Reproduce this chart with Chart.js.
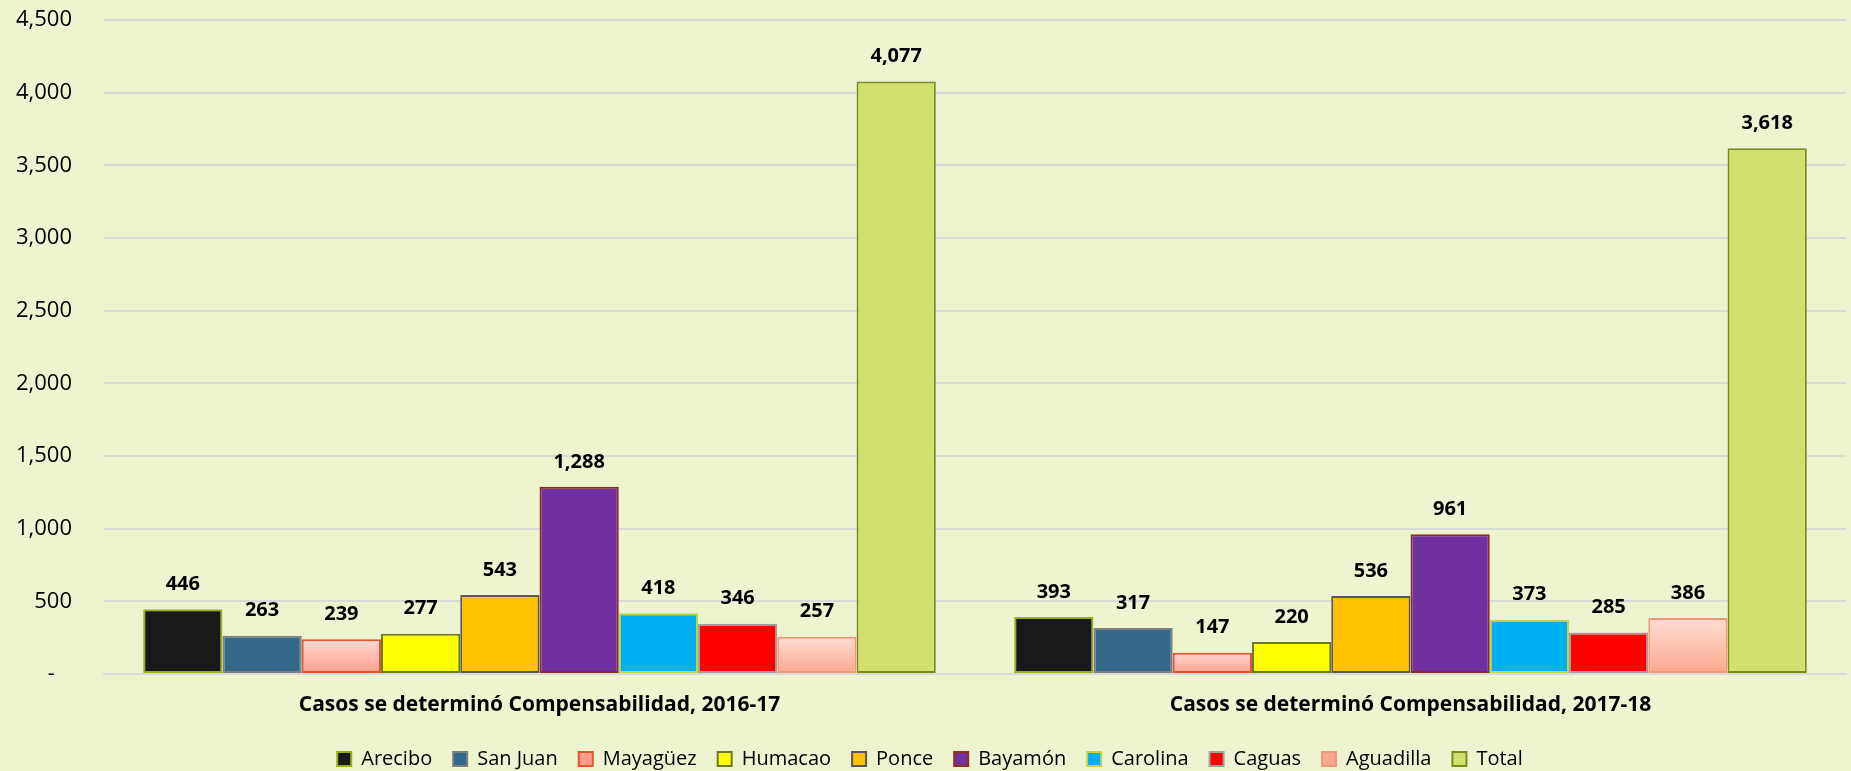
<!DOCTYPE html>
<html>
<head>
<meta charset="utf-8">
<script src="https://cdn.jsdelivr.net/npm/chart.js@4"></script>
<style>
	body { margin: 0; background: #eff4d0; }
	#wrap { width: 1851px; height: 771px; position: relative; }
</style>
</head>
<body>
<div id="wrap"><canvas id="myChart"></canvas></div>
<script>
var categorias = ["Casos se determinó Compensabilidad, 2016-17", "Casos se determinó Compensabilidad, 2017-18"];
var regiones = ["Arecibo", "San Juan", "Mayagüez", "Humacao", "Ponce", "Bayamón", "Carolina", "Caguas", "Aguadilla", "Total"];
var valores2016 = [446, 263, 239, 277, 543, 1288, 418, 346, 257, 4077];
var valores2017 = [393, 317, 147, 220, 536, 961, 373, 285, 386, 3618];
var yTicks = [0, 500, 1000, 1500, 2000, 2500, 3000, 3500, 4000, 4500];

var rellenos = ["#191919", "#336888", null, "#ffff00", "#ffc000", "#7030a0", "#00b0f0", "#ff0000", null, "#d3e06f"];
var bordes = ["#9aad1e", "#7f7f7f", "#e0552c", "#6b7a2a", "#595959", "#8b2e1a", "#c4d24a", "#a0a0a0", "#f09878", "#7b8c1f"];

// degradado rosado para Mayagüez y Aguadilla
function degradado(arriba, abajo) {
	return function(c) {
		var chart = c.chart;
		if (!chart.chartArea || c.raw === undefined) return arriba;
		var y = chart.scales.y;
		var g = chart.ctx.createLinearGradient(0, y.getPixelForValue(c.raw), 0, y.getPixelForValue(0));
		g.addColorStop(0, arriba);
		g.addColorStop(1, abajo);
		return g;
	};
}

var datasets = [];
for (var i = 0; i < regiones.length; i++) {
	var fondo = rellenos[i];
	if (i == 2) fondo = degradado("#ffd8d4", "#ff9d8a");
	if (i == 8) fondo = degradado("#ffddd4", "#fca78d");
	datasets.push({
		label : regiones[i],
		data : [valores2016[i], valores2017[i]],
		backgroundColor : fondo,
		borderColor : bordes[i],
		borderWidth : 2,
		borderSkipped : false,
		barPercentage : 1,
		categoryPercentage : 0.91
	});
}

var etiquetas = {
	id : "etiquetas",
	afterDatasetsDraw : function(chart) {
		var ctx = chart.ctx;
		ctx.save();
		ctx.font = "bold 20px 'Open Sans'";
		ctx.fillStyle = "#000";
		ctx.textAlign = "center";
		ctx.textBaseline = "middle";
		chart.data.datasets.forEach(function(ds, d) {
			var meta = chart.getDatasetMeta(d);
			meta.data.forEach(function(bar, j) {
				ctx.fillText(ds.data[j].toLocaleString("en-US"), bar.x, bar.y - 25);
			});
		});
		ctx.restore();
	}
};

var ctx = document.getElementById("myChart");

var myChart = new Chart(ctx, {
	type : "bar",
	data : {
		labels : categorias,
		datasets : datasets
	},
	options : {
		responsive : true,
		maintainAspectRatio : false,
		animation : false,
		layout : { padding : { top : 20, left : 14, right : 5, bottom : -8 } },
		plugins : {
			tooltip : { enabled : false },
			legend : {
				position : "bottom",
				labels : {
					color : "#000",
					font : { family : "Open Sans", size : 20 },
					boxWidth : 14,
					boxHeight : 14,
					padding : 21
				}
			}
		},
		scales : {
			x : {
				grid : { display : false, drawTicks : false },
				border : { display : true, color : "#d9d9d9", width : 2 },
				ticks : {
					color : "#000",
					padding : 18,
					font : { family : "Open Sans", size : 21, weight : "bold" }
				},
				afterFit : function(axis) {
					axis.height = 54;
				}
			},
			y : {
				min : 0,
				max : 4500,
				afterBuildTicks : function(axis) {
					axis.ticks = yTicks.map(function(v) { return { value : v }; });
				},
				afterFit : function(axis) {
					axis.width = 90;
					axis.paddingTop = 0;
					axis.paddingBottom = 0;
				},
				grid : { color : "#d9d9d9", lineWidth : 2, drawTicks : false },
				border : { display : false },
				ticks : {
					color : "#000",
					padding : 32,
					font : { family : "Open Sans", size : 22 },
					callback : function(v) {
						return v == 0 ? "-   " : v.toLocaleString("en-US");
					}
				}
			}
		}
	},
	plugins : [etiquetas]
});
</script>
</body>
</html>
